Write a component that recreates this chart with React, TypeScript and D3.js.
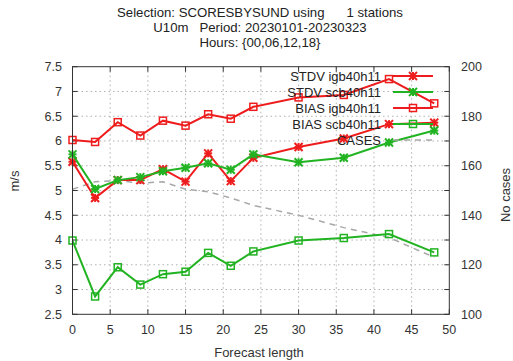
import React from "react";
import * as d3 from "d3";

const steps = [0, 3, 6, 9, 12, 15, 18, 21, 24, 30, 36, 42, 48];
const stdvIgb = [5.58, 4.85, 5.21, 5.21, 5.43, 5.18, 5.75, 5.19, 5.66, 5.88, 6.05, 6.34, 6.37];
const stdvScb = [5.73, 5.03, 5.21, 5.27, 5.39, 5.46, 5.55, 5.42, 5.73, 5.57, 5.66, 5.97, 6.21];
const biasIgb = [6.02, 5.98, 6.38, 6.11, 6.41, 6.31, 6.54, 6.45, 6.69, 6.88, 6.93, 7.25, 6.76];
const biasScb = [3.99, 2.86, 3.45, 3.1, 3.31, 3.36, 3.74, 3.48, 3.77, 3.99, 4.04, 4.12, 3.75];
const cases = [150.5, 153.5, 154, 153, 153.5, 150.5, 149.5, 147, 144, 140, 135, 131, 123];

const xTicks = [0, 5, 10, 15, 20, 25, 30, 35, 40, 45, 50];
const yTicks = [2.5, 3, 3.5, 4, 4.5, 5, 5.5, 6, 6.5, 7, 7.5];
const y2Ticks = [100, 120, 140, 160, 180, 200];
const y2Minor = [110, 130, 150, 170, 190];

const titleLines = [
  "Selection: SCORESBYSUND using      1 stations",
  "U10m   Period: 20230101-20230323",
  "Hours: {00,06,12,18}",
];

const RED = "#ee1c1c";
const GREEN = "#22b322";
const GREY = "#a8a8a8";

const L = 72.5, R = 449.3, T = 66.7, B = 314.3;

export default function App() {
  const x = d3.scaleLinear().domain([0, 50]).range([L, R]);
  const y = d3.scaleLinear().domain([2.5, 7.5]).range([B, T]);
  const y2 = d3.scaleLinear().domain([100, 200]).range([B, T]);

  const lineY = (vals: number[]) =>
    d3.line<number>().x((_, i) => x(steps[i])).y((d) => y(d))(vals) || "";
  const lineY2 = d3.line<number>().x((_, i) => x(steps[i])).y((d) => y2(d))(cases) || "";

  const font = "'Liberation Sans', Arial, sans-serif";

  const star = (cx: number, cy: number, color: string, key: string) => (
    <g key={key} stroke={color} strokeWidth={2}>
      <line x1={cx - 4} y1={cy - 4} x2={cx + 4} y2={cy + 4} />
      <line x1={cx - 4} y1={cy + 4} x2={cx + 4} y2={cy - 4} />
      <line x1={cx - 4} y1={cy} x2={cx + 4} y2={cy} />
      <line x1={cx} y1={cy - 4} x2={cx} y2={cy + 4} />
    </g>
  );
  const square = (cx: number, cy: number, color: string, key: string) => (
    <rect key={key} x={cx - 3.5} y={cy - 3.5} width={7} height={7} fill="none" stroke={color} strokeWidth={1.5} />
  );

  const series = [
    { name: "STDV igb40h11", vals: stdvIgb, color: RED, mark: star },
    { name: "STDV scb40h11", vals: stdvScb, color: GREEN, mark: star },
    { name: "BIAS igb40h11", vals: biasIgb, color: RED, mark: square },
    { name: "BIAS scb40h11", vals: biasScb, color: GREEN, mark: square },
  ];

  const legendY = [76, 92, 108, 124, 140];

  return (
    <svg width={513} height={361} style={{ position: "absolute", left: 0, top: 0, background: "#fff" }} fontFamily={font}>
      {/* title */}
      {titleLines.map((t, i) => (
        <text key={i} x={260} y={16.5 + i * 15} textAnchor="middle" fontSize={13.2} fill="#222" style={{ whiteSpace: "pre" }}>
          {t}
        </text>
      ))}
      {/* grid */}
      <g stroke="#b0b0b0" strokeWidth={1} strokeDasharray="1.5,3">
        {xTicks.slice(1, -1).map((t) => (
          <line key={"gx" + t} x1={x(t)} x2={x(t)} y1={T} y2={B} />
        ))}
        {yTicks.slice(1, -1).map((t) => (
          <line key={"gy" + t} x1={L} x2={R} y1={y(t)} y2={y(t)} />
        ))}
      </g>
      {/* ticks */}
      <g stroke="#333" strokeWidth={1}>
        {xTicks.map((t) => (
          <g key={"tx" + t}>
            <line x1={x(t)} x2={x(t)} y1={B} y2={B - 5} />
            <line x1={x(t)} x2={x(t)} y1={T} y2={T + 5} />
          </g>
        ))}
        {yTicks.map((t) => (
          <line key={"ty" + t} x1={L} x2={L + 5} y1={y(t)} y2={y(t)} />
        ))}
        {[...y2Ticks, ...y2Minor].map((t) => (
          <line key={"ty2" + t} x1={R} x2={R - 5} y1={y2(t)} y2={y2(t)} />
        ))}
      </g>
      {/* tick labels */}
      <g fontSize={12.5} fill="#333">
        {xTicks.map((t) => (
          <text key={"lx" + t} x={x(t)} y={333.5} textAnchor="middle">{t}</text>
        ))}
        {yTicks.map((t) => (
          <text key={"ly" + t} x={62} y={y(t) + 4.4} textAnchor="end">{t}</text>
        ))}
        {y2Ticks.map((t) => (
          <text key={"ly2" + t} x={461} y={y2(t) + 4.4} textAnchor="start">{t}</text>
        ))}
      </g>
      {/* axis labels */}
      <text x={259} y={357} textAnchor="middle" fontSize={13} fill="#333">Forecast length</text>
      <text transform="translate(19,181) rotate(-90)" textAnchor="middle" fontSize={13} fill="#333">m/s</text>
      <text transform="translate(510,195) rotate(-90)" textAnchor="middle" fontSize={13} fill="#333">No cases</text>

      {/* cases */}
      <path d={lineY2} fill="none" stroke={GREY} strokeWidth={1.5} strokeDasharray="6,5" />
      {/* series */}
      {series.map((s) => (
        <g key={s.name}>
          <path d={lineY(s.vals)} fill="none" stroke={s.color} strokeWidth={2} />
          {s.vals.map((v, i) => s.mark(x(steps[i]), y(v), s.color, s.name + i))}
        </g>
      ))}
      {/* legend */}
      <g fontSize={13} fill="#222">
        {series.map((s, i) => (
          <g key={"lg" + s.name}>
            <text x={381} y={legendY[i] + 4.5} textAnchor="end">{s.name}</text>
            <line x1={393} x2={433} y1={legendY[i]} y2={legendY[i]} stroke={s.color} strokeWidth={2} />
            {s.mark(413, legendY[i], s.color, "lm" + i)}
          </g>
        ))}
        <text x={381} y={legendY[4] + 4.5} textAnchor="end">CASES</text>
        <line x1={393} x2={433} y1={legendY[4]} y2={legendY[4]} stroke={GREY} strokeWidth={1.5} strokeDasharray="6,5" />
      </g>
      {/* frame */}
      <rect x={L} y={T} width={R - L} height={B - T} fill="none" stroke="#333" strokeWidth={1} />
    </svg>
  );
}
